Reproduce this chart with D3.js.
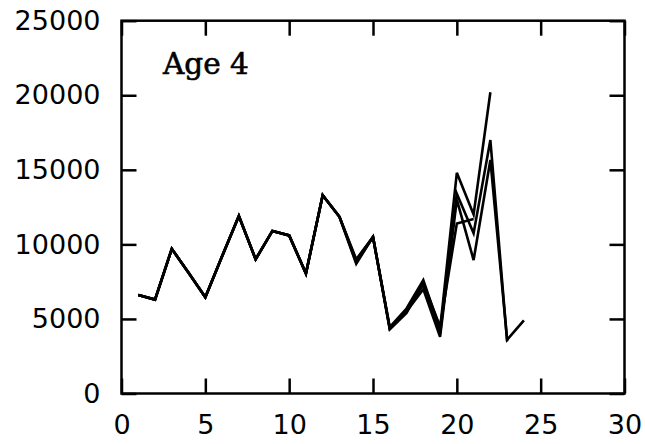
<!DOCTYPE html>
<html>
<head>
<meta charset="utf-8">
<script src="https://cdn.jsdelivr.net/npm/d3@7"></script>
<style>
  body { margin: 0; background: #fff; }
  .tick text { font-family: 'DejaVu Sans', sans-serif; font-size: 27px; fill: #000; }
  .tick line { stroke: #000; stroke-width: 2.5px; }
</style>
</head>
<body>
<div id="chart"></div>
<script>
'use strict';

// years on the x axis
const years = [1, 2, 3, 4, 5, 6, 7, 8, 9, 10, 11, 12, 13, 14, 15, 16, 17, 18, 19, 20, 21, 22, 23, 24];

// retrospective runs, one per terminal year
const run24 = [6600, 6300, 9700, 8100, 6450, 9200, 11900, 9000, 10900, 10600, 8050, 13300, 11850, 8700, 10500, 4350, 5500, 7000, 3800, 13000, 8950, 15660, 3600, 4900];
const run23 = [6600, 6300, 9700, 8100, 6450, 9200, 11900, 9000, 10900, 10600, 8050, 13300, 11850, 8800, 10500, 4400, 5600, 7300, 4000, 13400, 10750, 17000, 3500];
const run22 = [6600, 6300, 9700, 8100, 6450, 9200, 11900, 9000, 10900, 10600, 8050, 13300, 11850, 9000, 10500, 4450, 5700, 7600, 4300, 14800, 12000, 20200];
const run21 = [6600, 6300, 9700, 8100, 6450, 9200, 11900, 9000, 10900, 10600, 8050, 13300, 11850, 8900, 10500, 4300, 5400, 7400, 4500, 11400, 11700];

const runs = [run24, run23, run22, run21];

// tick values
const xTicks = [0, 5, 10, 15, 20, 25, 30];
const yTicks = [0, 5000, 10000, 15000, 20000, 25000];

const panelLabel = 'Age 4';

/** size of the page */
const width = 645;
const height = 444;

const x = d3.scaleLinear()
  .domain([0, 30])
  .range([121.5, 624.5]);

const y = d3.scaleLinear()
  .domain([0, 25000])
  .range([393.5, 20.7]);

const svg = d3.select('#chart')
  .append('svg')
    .attr('width', width)
    .attr('height', height);

// bottom axis with the labels, ticks pointing inwards
svg.append('g')
  .attr('transform', `translate(0,${y(0)})`)
  .call(d3.axisBottom(x).tickValues(xTicks).tickSize(-15).tickPadding(21).tickFormat(d3.format('d')))
  .call(g => g.select('.domain').remove());

// left axis with the labels
svg.append('g')
  .attr('transform', `translate(${x(0)},0)`)
  .call(d3.axisLeft(y).tickValues(yTicks).tickSize(-15).tickPadding(21).tickFormat(d3.format('d')))
  .call(g => g.select('.domain').remove());

// top and right ticks, no labels
svg.append('g')
  .attr('transform', `translate(0,${y(25000)})`)
  .call(d3.axisTop(x).tickValues(xTicks).tickSize(-15).tickFormat(''))
  .call(g => g.select('.domain').remove());

svg.append('g')
  .attr('transform', `translate(${x(30)},0)`)
  .call(d3.axisRight(y).tickValues(yTicks).tickSize(-15).tickFormat(''))
  .call(g => g.select('.domain').remove());

// the frame round the plot
svg.append('rect')
  .attr('x', x(0))
  .attr('y', y(25000))
  .attr('width', x(30) - x(0))
  .attr('height', y(0) - y(25000))
  .attr('fill', 'none')
  .attr('stroke', '#000')
  .attr('stroke-width', 2.5);

const line = d3.line()
  .x((d, i) => x(years[i]))
  .y(d => y(d));

svg.selectAll('.run')
  .data(runs)
  .join('path')
    .attr('class', 'run')
    .attr('d', line)
    .attr('fill', 'none')
    .attr('stroke', '#000')
    .attr('stroke-width', 2.6)
    .attr('stroke-linejoin', 'miter');

svg.append('text')
  .attr('x', 163)
  .attr('y', 73.5)
  .attr('font-family', 'DejaVu Serif, serif')
  .attr('font-size', 29.5)
  .attr('fill', '#000')
  .attr('stroke', '#000')
  .attr('stroke-width', 0.6)
  .text(panelLabel);
</script>
</body>
</html>
